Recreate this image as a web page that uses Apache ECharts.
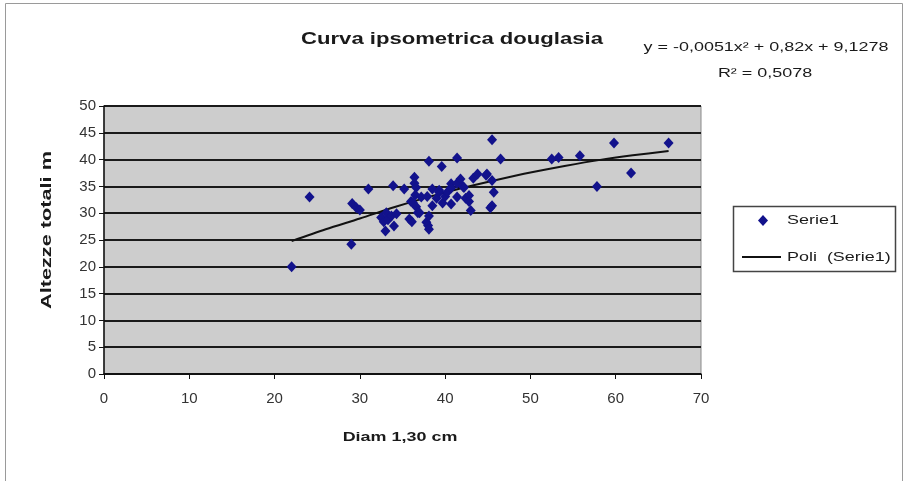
<!DOCTYPE html>
<html>
<head>
<meta charset="utf-8">
<script src="https://cdn.jsdelivr.net/npm/echarts@6/dist/echarts.min.js"></script>
<style>
  html, body { margin: 0; padding: 0; background: #ffffff; }
  #chart { width: 908px; height: 481px; }
</style>
</head>
<body>
<div id="chart"></div>
<script>
// Diameter at 1.30 m (cm) and total height (m) of each measured tree
const diametri = [22.0, 24.1, 29.0, 29.1, 29.6, 30.0, 31.0, 32.5, 32.8, 33.0, 33.1, 33.3, 33.7, 33.9, 34.3,
  34.0, 35.2, 35.8, 36.0, 36.1, 36.2, 36.4, 36.4, 36.6, 36.5, 36.6, 36.8, 37.0, 37.2, 37.8,
  38.0, 38.1, 38.1, 38.1, 37.9, 38.5, 38.5, 39.0, 39.3, 39.3, 39.6, 39.7, 40.0, 40.3, 40.7,
  40.7, 40.7, 41.4, 41.4, 41.4, 41.8, 42.1, 42.2, 42.4, 42.8, 42.8, 43.0, 43.3, 43.8, 44.8,
  44.9, 45.5, 45.5, 45.7, 45.5, 45.3, 46.5, 52.5, 53.3, 55.8, 57.8, 59.8, 61.8, 66.2];
const altezze = [20.0, 33.0, 24.2, 31.8, 31.0, 30.6, 34.5, 29.2, 28.4, 26.7, 30.1, 28.8, 29.5, 35.1, 29.9,
  27.6, 34.5, 28.9, 32.2, 28.4, 32.0, 36.7, 35.6, 34.8, 33.4, 31.2, 30.1, 30.1, 33.0, 28.3,
  27.7, 27.0, 29.5, 39.7, 33.1, 34.5, 31.4, 32.8, 33.9, 34.3, 38.7, 31.9, 33.1, 34.0, 35.5,
  31.7, 34.7, 40.3, 33.0, 35.6, 36.4, 35.0, 34.8, 32.8, 33.3, 32.2, 30.5, 36.5, 37.3, 37.1,
  37.3, 36.1, 43.7, 33.9, 31.4, 31.0, 40.1, 40.1, 40.4, 40.7, 35.0, 43.1, 37.5, 43.1];

// Polynomial trend line (Poli), sampled along the drawn curve
const trendX = [22, 26, 30, 34, 38, 42, 46, 50, 54, 58, 62, 66.2];
const trendY = [24.8, 27.0, 29.0, 31.1, 33.0, 34.7, 36.2, 37.6, 38.8, 39.9, 40.8, 41.6];

const xTicks = { min: 0, max: 70, interval: 10 };
const yTicks = { min: 0, max: 50, interval: 5 };

const titolo = 'Curva ipsometrica douglasia';
const equazione = 'y = -0,0051x² + 0,82x + 9,1278';
const r2 = 'R² = 0,5078';
const nomeX = 'Diam 1,30 cm';
const nomeY = 'Altezze totali m';
const nomeSerie = 'Serie1';
const nomeTrend = 'Poli  (Serie1)';

const FONT = '"Liberation Sans", Arial, sans-serif';
const WIDE = 1.38; // the chart's lettering is drawn slightly widened
const punti = diametri.map((d, i) => [d, altezze[i]]);
const curva = trendX.map((d, i) => [d, trendY[i]]);

// text helper for the widened captions
function testo(str, x, y, font, align, extra) {
  return Object.assign({
    type: 'text', x: x, y: y, scaleX: WIDE, silent: true,
    style: { text: str, x: 0, y: 0, align: align || 'center', verticalAlign: 'middle', font: font, fill: '#1a1a1a' }
  }, extra || {});
}

const chart = echarts.init(document.getElementById('chart'), null, { renderer: 'canvas' });
chart.setOption({
  backgroundColor: '#ffffff',
  animation: false,
  textStyle: { fontFamily: FONT },
  grid: {
    left: 104, right: 207, top: 106, bottom: 107,
    show: true, backgroundColor: '#cdcdcd', borderColor: '#8a8a8a', borderWidth: 1
  },
  xAxis: {
    type: 'value', min: xTicks.min, max: xTicks.max, interval: xTicks.interval,
    axisLine: { show: true, onZero: false, lineStyle: { color: '#111', width: 1.5 } },
    axisTick: { show: true, length: 5, lineStyle: { color: '#111' } },
    axisLabel: { fontFamily: FONT, fontSize: 15, color: '#333', margin: 17 },
    splitLine: { show: false }
  },
  yAxis: {
    type: 'value', min: yTicks.min, max: yTicks.max, interval: yTicks.interval,
    axisLine: { show: true, onZero: false, lineStyle: { color: '#111', width: 1.5 } },
    axisTick: { show: true, length: 5, lineStyle: { color: '#111' } },
    axisLabel: { fontFamily: FONT, fontSize: 15, color: '#333', margin: 8 },
    splitLine: { show: true, lineStyle: { color: '#1a1a1a', width: 2 } }
  },
  series: [
    {
      name: nomeTrend, type: 'line', data: curva, smooth: 0.3,
      symbol: 'none', lineStyle: { color: '#111', width: 2 }, z: 2
    },
    {
      name: nomeSerie, type: 'scatter', data: punti,
      symbol: 'diamond', symbolSize: [10, 11],
      itemStyle: { color: '#12128c', opacity: 1 }, z: 3
    }
  ],
  graphic: [
    // outer frame of the picture
    { type: 'rect', shape: { x: 5.5, y: 3.5, width: 897, height: 490 },
      style: { fill: 'none', stroke: '#9a9a9a', lineWidth: 1 }, silent: true },
    testo(titolo, 452, 40, 'bold 16px ' + FONT),
    testo(equazione, 766, 47, '13px ' + FONT),
    testo(r2, 765, 73, '13px ' + FONT),
    testo(nomeX, 400, 437, 'bold 13px ' + FONT),
    testo(nomeY, 47, 230, 'bold 14px ' + FONT, 'center', { rotation: Math.PI / 2, scaleX: 1.55 }),
    // legend box
    { type: 'rect', shape: { x: 733.5, y: 206.5, width: 162, height: 65 },
      style: { fill: '#ffffff', stroke: '#444', lineWidth: 1.5 } },
    { type: 'polygon', shape: { points: [[763, 215], [768, 220.5], [763, 226], [758, 220.5]] },
      style: { fill: '#12128c' } },
    testo(nomeSerie, 787, 220.5, '13px ' + FONT, 'left'),
    { type: 'line', shape: { x1: 742, y1: 257, x2: 781, y2: 257 },
      style: { stroke: '#111', lineWidth: 2 } },
    testo(nomeTrend, 787, 257, '13px ' + FONT, 'left')
  ]
});
</script>
</body>
</html>
